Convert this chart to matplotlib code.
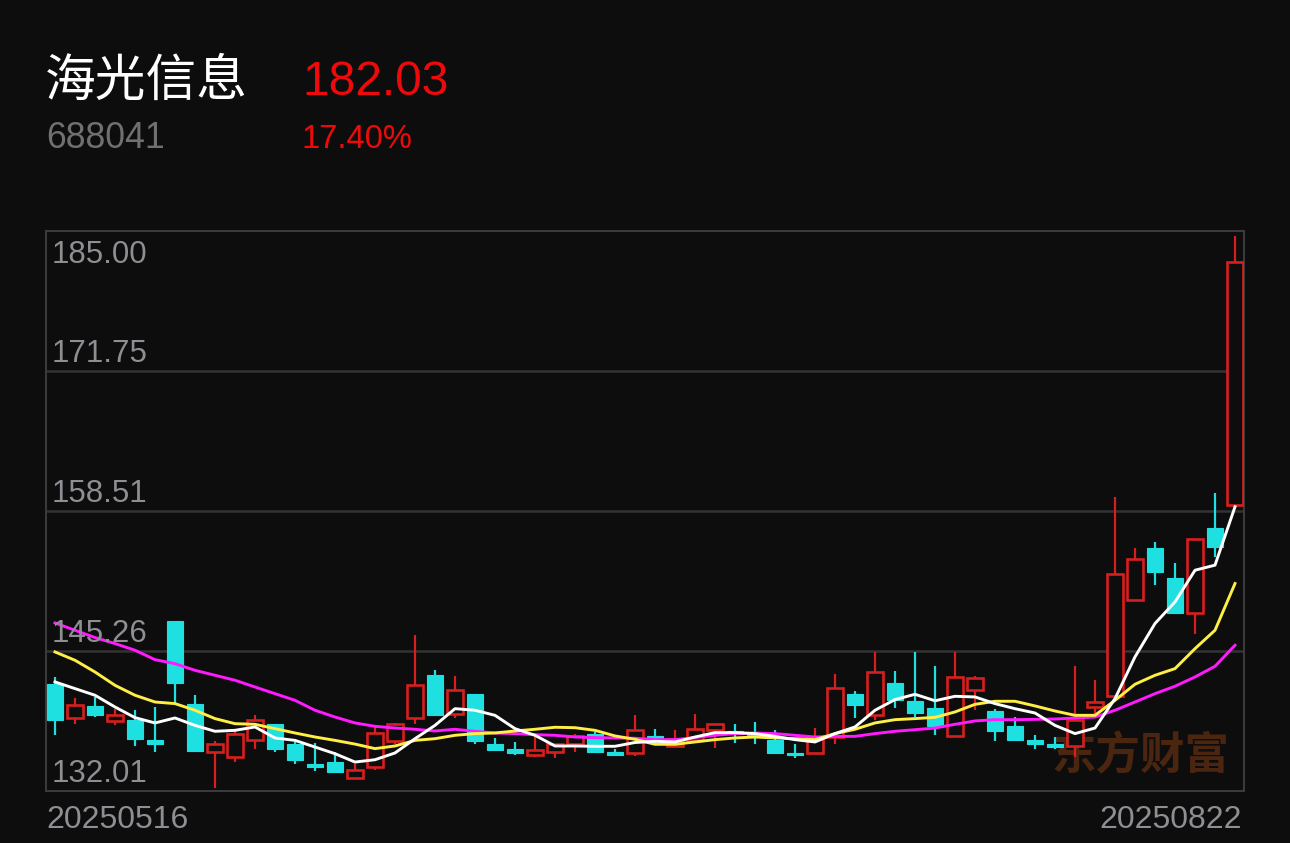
import matplotlib
matplotlib.use('Agg')
import matplotlib.pyplot as plt
from matplotlib.patches import Rectangle
from matplotlib.transforms import offset_copy

plt.rcParams['font.family'] = ['Noto Sans CJK SC', 'DejaVu Sans']
num_font = ['Liberation Sans', 'DejaVu Sans']

# stock info
stock_name = '海光信息'
stock_code = '688041'
last_price = '182.03'
pct_change = '17.40%'
date_labels = ['20250516', '20250822']
y_ticks = [132.01, 145.26, 158.51, 171.75, 185.00]

# daily candles
opens = [142.18, 138.95, 140.02, 138.64, 138.70, 136.87, 148.07, 140.28, 135.70, 135.23,
         136.87, 138.38, 136.43, 134.53, 134.75, 133.24, 134.28, 136.74, 138.95, 142.96,
         139.33, 141.22, 136.49, 136.02, 135.45, 135.70, 136.49, 137.44, 135.70, 135.64,
         137.18, 136.24, 136.80, 137.75, 137.69, 137.44, 136.80, 135.64, 135.64, 137.12,
         141.16, 139.23, 142.23, 140.50, 139.90, 137.18, 141.60, 139.55, 138.13, 136.80,
         136.43, 136.24, 139.96, 140.97, 150.06, 154.96, 152.12, 148.88, 156.85, 159.12]
highs = [142.80, 140.84, 140.91, 139.80, 139.71, 139.96, 148.07, 141.13, 136.74, 137.66,
         139.17, 138.38, 136.65, 136.55, 135.70, 134.60, 138.22, 138.48, 146.75, 143.43,
         142.90, 141.22, 137.03, 136.65, 137.44, 136.49, 137.44, 137.59, 136.02, 139.17,
         137.91, 137.81, 139.33, 138.32, 138.38, 138.54, 137.81, 136.49, 137.97, 143.12,
         141.48, 145.17, 143.37, 145.17, 143.84, 145.17, 142.86, 139.80, 139.01, 137.34,
         137.12, 143.81, 142.49, 159.84, 154.96, 155.53, 153.63, 155.84, 160.22, 184.56]
lows = [137.28, 138.32, 139.01, 138.29, 136.27, 135.70, 140.34, 135.70, 132.32, 134.75,
        136.02, 135.70, 134.53, 133.90, 133.81, 133.24, 133.96, 136.49, 138.38, 139.08,
        138.95, 136.49, 135.79, 135.38, 135.23, 135.16, 135.70, 135.61, 135.29, 135.32,
        136.49, 136.17, 136.65, 136.11, 136.55, 136.43, 135.48, 135.16, 135.64, 136.43,
        138.95, 138.76, 139.87, 139.01, 137.28, 137.18, 139.65, 136.71, 136.74, 136.02,
        136.02, 135.23, 139.17, 140.80, 150.00, 151.48, 148.86, 146.91, 154.16, 159.12]
closes = [138.77, 140.18, 139.17, 139.17, 136.96, 136.43, 142.23, 135.79, 136.43, 137.44,
          138.76, 136.02, 134.97, 134.28, 133.81, 133.96, 137.50, 138.32, 142.01, 139.23,
          141.54, 136.74, 135.86, 135.64, 135.92, 136.49, 137.18, 135.70, 135.45, 137.75,
          136.87, 136.96, 137.91, 138.32, 137.44, 137.28, 135.61, 135.45, 137.12, 141.76,
          140.18, 143.27, 140.66, 139.42, 138.13, 142.80, 142.71, 137.66, 136.87, 136.43,
          136.17, 138.70, 140.43, 152.59, 154.01, 152.69, 148.86, 155.84, 155.11, 182.03]

# moving averages as drawn
ma5 = [142.33, 141.70, 141.07, 139.96, 138.95, 138.45, 138.92, 138.22, 137.66, 137.75,
       138.07, 137.03, 136.80, 136.17, 135.54, 134.75, 134.97, 135.61, 136.96, 138.22,
       139.80, 139.65, 139.17, 137.91, 137.28, 136.27, 136.27, 136.24, 136.24, 136.60,
       136.71, 136.65, 137.12, 137.53, 137.53, 137.44, 137.18, 136.87, 136.65, 137.44,
       138.07, 139.65, 140.66, 141.16, 140.55, 140.97, 140.91, 140.28, 139.80, 139.39,
       138.22, 137.44, 137.97, 140.75, 144.70, 147.86, 149.90, 152.90, 153.38, 158.90]
ma10 = [145.17, 144.38, 143.27, 142.01, 141.07, 140.43, 140.28, 139.65, 138.86, 138.38,
        138.32, 137.91, 137.50, 137.12, 136.80, 136.45, 136.02, 136.27, 136.80, 136.96,
        137.28, 137.44, 137.50, 137.69, 137.85, 138.04, 138.00, 137.75, 137.22, 136.90,
        136.43, 136.43, 136.65, 136.87, 137.03, 137.12, 137.03, 136.96, 136.87, 137.44,
        137.85, 138.45, 138.76, 138.86, 138.98, 139.49, 140.21, 140.50, 140.50, 140.06,
        139.58, 139.17, 139.17, 140.59, 142.11, 142.96, 143.59, 145.48, 147.22, 151.64]
ma20 = [147.91, 147.22, 146.53, 145.96, 145.33, 144.44, 144.06, 143.43, 142.96, 142.49,
        141.85, 141.22, 140.59, 139.65, 139.01, 138.45, 138.13, 137.97, 137.85, 137.69,
        137.85, 137.66, 137.50, 137.44, 137.34, 137.28, 137.12, 137.06, 137.03, 137.00,
        136.87, 136.87, 137.06, 137.28, 137.44, 137.50, 137.44, 137.28, 137.12, 137.18,
        137.18, 137.44, 137.66, 137.81, 137.97, 138.32, 138.64, 138.76, 138.76, 138.79,
        138.82, 138.92, 139.01, 139.65, 140.43, 141.22, 141.92, 142.80, 143.81, 145.80]

bg = '#0d0d0d'
up_color = '#d81f1f'
down_color = '#1fe0e0'
W, H = 1290, 843

fig = plt.figure(figsize=(W / 100, H / 100), dpi=100, facecolor=bg)
ax = fig.add_axes([46 / W, (H - 791) / H, 1198 / W, 560 / H], facecolor=bg)

n = len(closes)
body_w = 0.78
for i in range(n):
    o, h, l, c = opens[i], highs[i], lows[i], closes[i]
    up = c >= o
    col = up_color if up else down_color
    top, bot = max(o, c), min(o, c)
    ax.plot([i, i], [top, h], color=col, lw=1.6, zorder=2, solid_capstyle='butt')
    ax.plot([i, i], [l, bot], color=col, lw=1.6, zorder=2, solid_capstyle='butt')
    if up:
        rect = Rectangle((i - body_w / 2, bot), body_w, max(top - bot, 0.05),
                         facecolor=bg, edgecolor=col, lw=1.9, zorder=3)
    else:
        rect = Rectangle((i - body_w / 2, bot), body_w, max(top - bot, 0.12),
                         facecolor=col, edgecolor=col, lw=0.8, zorder=3)
    ax.add_patch(rect)

x = list(range(n))
ax.plot(x, ma20, color='#ff1aff', lw=2.1, zorder=4)
ax.plot(x, ma10, color='#ffee44', lw=2.1, zorder=5)
ax.plot(x, ma5, color='#ffffff', lw=2.1, zorder=6)

ax.set_xlim(-0.45, n - 0.55)
ax.set_ylim(y_ticks[0], y_ticks[-1])
ax.set_xticks([])
ax.set_yticks([])
for s in ax.spines.values():
    s.set_color('#3a3a3a')
    s.set_linewidth(1.5)
for t in y_ticks[1:-1]:
    ax.axhline(t, color='#333333', lw=1.8, zorder=1)

# price labels inside the axes
trans = ax.get_yaxis_transform()
for t in y_ticks:
    dy = -32 if t == y_ticks[-1] else 9
    tr = offset_copy(trans, fig=fig, x=6, y=dy, units='dots')
    ax.text(0, t, f'{t:.2f}', transform=tr, color='#8e8e93', fontsize=22.5,
            family=num_font, ha='left', va='baseline', zorder=7)

ax.text(0.988, 0.0625, '东方财富', transform=ax.transAxes, color='#4a2510',
        fontsize=32, fontweight='bold', ha='right', va='center', zorder=0.5)


def fy(px):
    return 1 - px / H


fig.text(46 / W, fy(828), date_labels[0], color='#8e8e93', fontsize=23,
         family=num_font, ha='left', va='baseline')
fig.text(1242 / W, fy(828), date_labels[1], color='#8e8e93', fontsize=23,
         family=num_font, ha='right', va='baseline')

fig.text(45 / W, fy(96), stock_name, color='#ffffff', fontsize=36.5,
         ha='left', va='baseline')
fig.text(46 / W, fy(148), stock_code, color='#707070', fontsize=25.7,
         family=num_font, ha='left', va='baseline')
fig.text(302 / W, fy(95), last_price, color='#ee0a0a', fontsize=34.5,
         family=num_font, ha='left', va='baseline')
fig.text(302 / W, fy(148), pct_change, color='#ee0a0a', fontsize=23.6,
         family=num_font, ha='left', va='baseline')

fig.savefig('out.png', dpi=100, facecolor=bg)
